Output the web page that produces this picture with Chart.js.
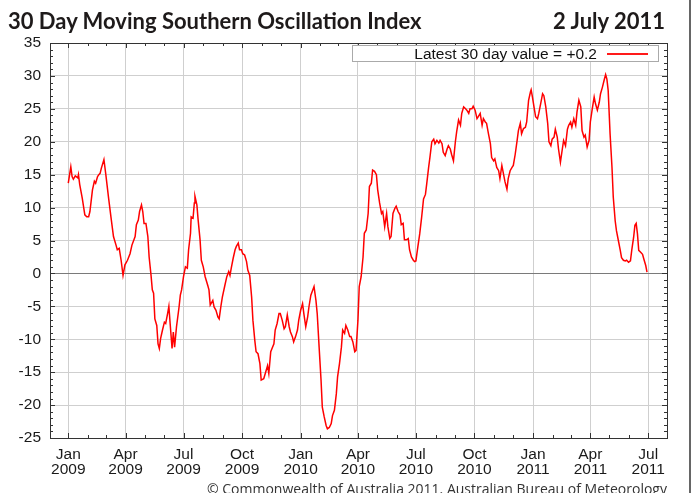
<!DOCTYPE html>
<html>
<head>
<meta charset="utf-8">
<title>30 Day Moving Southern Oscillation Index</title>
<script src="https://cdn.jsdelivr.net/npm/chart.js@4.4.1/dist/chart.umd.min.js"></script>
<style>
  html, body { margin: 0; padding: 0; background: #fff; }
  #wrap { position: relative; width: 698px; height: 493px; overflow: hidden; background: #fff; }
  #chart { position: absolute; left: 0; top: 0; }
  .head { position: absolute; top: 8px; font-family: Lato, 'Open Sans', sans-serif; font-weight: bold;
          font-size: 22px; line-height: 26px; color: #1e1a1a; white-space: nowrap; }
  #title { left: 8px; }
  #date { right: 33px; }
  #legend { position: absolute; left: 352px; top: 45px; width: 307px; height: 17px; box-sizing: border-box;
            border: 1px solid #aaa; background: #fff; display: flex; align-items: center;
            justify-content: flex-end; padding-right: 10px;
            font: 15.5px 'Liberation Sans', Arial, sans-serif; color: #111; }
  #legend .swatch { display: inline-block; width: 41px; height: 2px; background: #ff1a1a; margin-left: 10px; }
  #footer { position: absolute; left: 207px; top: 479px; font: 14px 'Open Sans', sans-serif;
            color: #333; white-space: nowrap; }
  #edge { position: absolute; left: 689px; top: 0; width: 2px; height: 493px; background: #666; }
</style>
</head>
<body>
<div id="wrap">
  <canvas id="chart" width="698" height="493"></canvas>
  <div class="head" id="title">30 Day Moving Southern Oscillation Index</div>
  <div class="head" id="date">2 July 2011</div>
  <div id="legend"><span id="legendText"></span><span class="swatch"></span></div>
  <div id="footer">© Commonwealth of Australia 2011. Australian Bureau of Meteorology</div>
  <div id="edge"></div>
</div>
<script>
// days since 1 Jan 2009
const days = [
  0, 4, 6, 8, 11, 15, 16, 18, 22, 26, 29, 32, 34, 38, 41, 43, 46, 48, 50, 52, 56, 59, 63, 67, 71, 75, 77, 80, 83, 86,
  89, 93, 97, 100, 105, 107, 110, 112, 115, 117, 119, 122, 125, 127, 130, 132, 134, 136, 139, 141, 143, 145, 148, 151,
  153, 156, 158, 160, 163, 165, 167, 170, 174, 176, 178, 181, 184, 187, 189, 192, 193, 196, 198, 199, 202, 204, 207,
  209, 212, 215, 219, 221, 223, 227, 229, 232, 235, 237, 240, 242, 246, 249, 252, 254, 256, 259, 262, 264, 267, 269,
  272, 274, 277, 280, 282, 285, 288, 290, 293, 295, 298, 301, 303,
  307, 310, 313, 315, 318, 320, 323, 325, 328, 331, 333, 336, 339, 341, 344, 347, 349, 352, 354, 357, 360, 362, 365,
  368, 370, 373, 376, 378, 381, 383, 386, 389, 391, 394, 397, 399, 402, 405, 407, 410, 413, 415, 418, 421, 423, 426,
  429, 431, 434, 436, 439, 442, 444, 447, 450, 452, 455, 457, 460, 463, 465, 468, 471, 473, 476, 478, 481, 484, 486,
  489, 492, 494, 497, 500, 502, 505, 507, 510, 513, 515, 518, 521, 523, 526, 528, 531, 534, 536, 539, 542, 544,
  546, 549, 552, 555, 558, 561, 563, 566, 568, 571, 574, 576, 579, 582, 584, 587, 589, 592, 595, 597, 600, 602, 605,
  608, 610, 613, 616, 618, 621, 624, 626, 629, 631, 634, 636, 639, 642, 644, 647, 650, 652, 655, 657, 660, 663, 665,
  668, 670, 673, 676, 678, 681, 684, 686, 689, 691, 694, 697, 699, 702, 705, 707, 710, 712, 715, 718, 720, 723, 726,
  727, 729, 732, 734, 737, 739, 742, 745, 747, 750, 753, 755, 758, 760, 763, 765, 768, 770, 773, 776, 778, 781, 784,
  786, 789, 791, 794, 797, 799, 802, 805, 807, 810, 812, 815, 818, 820, 823, 826, 828, 831, 834, 836, 839, 842, 844,
  846, 848, 851, 854, 856, 859, 861, 864, 867, 869, 872, 875, 877, 880, 883, 885, 888, 890, 892, 894, 896, 899, 902,
  904, 907, 909
];
const soi = [
  13.7, 16.2, 14.7, 14.3, 14.8, 14.5, 15, 13.5, 11.4, 8.9, 8.6, 8.6, 9.4, 12.7, 14, 13.7, 14.7, 15, 15.2, 16, 17.3, 15,
  11.7, 8.6, 5.6, 4.3, 3.6, 3.8, 2, -0.3, 1.3, 2, 3, 4.3, 5.6, 7.4, 8.1, 9.4, 10.4, 9.4, 7.6, 7.6, 5.6, 2.5, -0.3, -2.5,
  -3, -6.9, -7.9, -10.7, -11.4, -9.9, -8.6, -7.4, -7.6, -6.1, -5, -7.6, -11.4, -8.9, -11.2, -8.1, -5.1, -3.3, -2.5,
  -0.5, 1, 0.8, 3.6, 6.1, 8.6, 8.4, 10.7, 11.7, 10.4, 8.1, 5.1, 2, 1, -0.5, -1.8, -2.5, -4.8, -4.1, -5.1, -5.6, -6.6,
  -6.9, -4.8, -3.6, -1.8, -0.5, 0.3, -0.3, 0.8, 2.3, 3.6, 4.1, 4.6, 3.6, 3.6, 3, 2.8, 1.8, 0.5, -0.3, -3.6, -7.1,
  -10.2, -11.9, -12.2, -13.7, -16.2,
  -16, -15, -14, -15.2, -11.9, -11.4, -10.7, -8.6, -7.6, -6.1, -6.1, -7.1, -8.4, -8.1, -6.3, -8.1, -8.9, -9.6, -10.4,
  -9.6, -8.6, -7.1, -5.6, -4.6, -6.1, -8.1, -6.6, -5.1, -3.3, -2.8, -2, -4.1, -6.1, -11.2, -16.2, -20.3, -21.8, -23.1,
  -23.6, -23.4, -22.8, -21.6, -20.8, -18.3, -15.7, -13.7, -11.2, -8.6, -9.1, -7.9, -8.6, -9.6, -9.6, -10.4, -11.9,
  -11.7, -7.1, -2, -0.5, 2.5, 6.1, 6.6, 9.1, 13.2, 13.7, 15.7, 15.5, 15, 12.7, 10.7, 9.1, 9.4, 7.1, 9.1, 7.1, 5.3,
  5.6, 9.1, 9.9, 10.2, 9.4, 8.9, 7.4, 7.6, 5.1, 5.1, 5.3, 3.6, 2.5, 2, 1.8,
  1.9, 4, 6, 8.5, 11.3, 12, 13.6, 16.1, 17.6, 20, 20.4, 19.7, 20.2, 19.8, 20.2, 19.7, 18.4, 17.9, 18.9, 19.4, 18.9,
  18.1, 17.1, 20, 21.5, 23.3, 22.5, 24.3, 25.3, 25, 24.8, 24.3, 25, 25, 25.4, 24.8, 23.5, 23.8, 24.3, 22.5, 23.5, 23,
  22.8, 21.2, 19.7, 17.6, 17.1, 17.4, 16.1, 15.6, 14.4, 16.4, 14.9, 13.9, 12.8, 14.4, 15.6, 16.1, 16.4, 18.1, 20.2,
  21.7, 22.8, 21.2, 22, 22.2, 23, 26.3, 27.6, 27.9, 26.8, 25, 23.8, 23.5, 24.3, 25.8, 27.3, 27, 25.3, 22.8, 20, 19.4,
  20.4, 20.7, 21.9, 20.7, 18.9, 16.9, 18.9, 20.2, 19.4, 21.9, 22.5, 23, 22.2, 23.5, 22.5, 24.5, 26.3, 25.3, 21.7,
  20.7, 21, 19.2, 20.2, 23, 25, 26.8, 25.8, 24.8, 26, 27.3, 28.3, 29.5, 30.2, 29.5, 27.8, 21.2, 16.1, 11.6, 8, 6.5, 5,
  3.5, 2.4, 2, 1.9, 2, 1.7, 1.9, 3.5, 5.5, 7.3, 7.6, 6, 3.5, 3.2, 2.9, 2.2, 1.2, 0.2
];

// x axis ticks (days since 1 Jan 2009)
const tickDays = [0, 90, 181, 273, 365, 455, 546, 638, 730, 820, 911];
const tickLabels = [
  ['Jan', '2009'], ['Apr', '2009'], ['Jul', '2009'], ['Oct', '2009'],
  ['Jan', '2010'], ['Apr', '2010'], ['Jul', '2010'], ['Oct', '2010'],
  ['Jan', '2011'], ['Apr', '2011'], ['Jul', '2011']
];
const monthDays = [0, 31, 59, 90, 120, 151, 181, 212, 243, 273, 304, 334,
  365, 396, 424, 455, 485, 516, 546, 577, 608, 638, 669, 699,
  730, 761, 789, 820, 850, 881, 911];

const last = soi[soi.length - 1];
document.getElementById('legendText').textContent =
  'Latest 30 day value = ' + (last >= 0 ? '+' : '') + last.toFixed(1);

const tickFont = { family: "'Liberation Sans', Arial, sans-serif", size: 15.5 };

// box round the plot + small inward ticks
const frameTicks = {
  id: 'frameTicks',
  afterDraw(chart) {
    const { ctx, chartArea: a, scales: { x, y } } = chart;
    ctx.save();
    ctx.strokeStyle = '#333';
    ctx.lineWidth = 1;
    ctx.beginPath();
    monthDays.forEach(d => {
      const px = Math.round(x.getPixelForValue(d)) + 0.5;
      const len = tickDays.includes(d) ? 5 : 3;
      ctx.moveTo(px, a.bottom); ctx.lineTo(px, a.bottom - len);
      ctx.moveTo(px, a.top); ctx.lineTo(px, a.top + len);
    });
    for (let v = y.min; v <= y.max; v++) {
      const py = Math.round(y.getPixelForValue(v)) + 0.5;
      const len = v % 5 === 0 ? 5 : 3;
      ctx.moveTo(a.left, py); ctx.lineTo(a.left + len, py);
      ctx.moveTo(a.right, py); ctx.lineTo(a.right - len, py);
    }
    ctx.stroke();
    ctx.strokeRect(Math.round(a.left) + 0.5, Math.round(a.top) + 0.5,
      Math.round(a.right - a.left), Math.round(a.bottom - a.top));
    ctx.restore();
  }
};

new Chart(document.getElementById('chart'), {
  type: 'line',
  data: {
    datasets: [{
      label: 'SOI',
      data: days.map((d, i) => ({ x: d, y: soi[i] })),
      borderColor: '#ff0000',
      borderWidth: 1.5,
      pointRadius: 0,
      tension: 0
    }]
  },
  options: {
    responsive: false,
    animation: false,
    layout: { padding: { top: 43, right: 31, left: 0, bottom: 0 } },
    plugins: { legend: { display: false }, tooltip: { enabled: false } },
    scales: {
      x: {
        type: 'linear',
        min: -28.7,
        max: 940.4,
        afterBuildTicks: s => { s.ticks = tickDays.map(v => ({ value: v })); },
        afterFit: s => { s.height = 55; },
        ticks: {
          autoSkip: false,
          maxRotation: 0,
          padding: 9,
          color: '#1a1a1a',
          font: { ...tickFont, lineHeight: 0.98 },
          callback: v => tickLabels[tickDays.indexOf(v)]
        },
        grid: { color: '#cfcfcf', drawTicks: false },
        border: { display: false }
      },
      y: {
        min: -25,
        max: 35,
        afterFit: s => { s.width = 50; },
        ticks: { stepSize: 5, padding: 9, color: '#1a1a1a', font: tickFont },
        grid: {
          color: c => (c.tick && c.tick.value === 0 ? '#7a7a7a' : '#cfcfcf'),
          drawTicks: false
        },
        border: { display: false }
      }
    }
  },
  plugins: [frameTicks]
});
</script>
</body>
</html>
